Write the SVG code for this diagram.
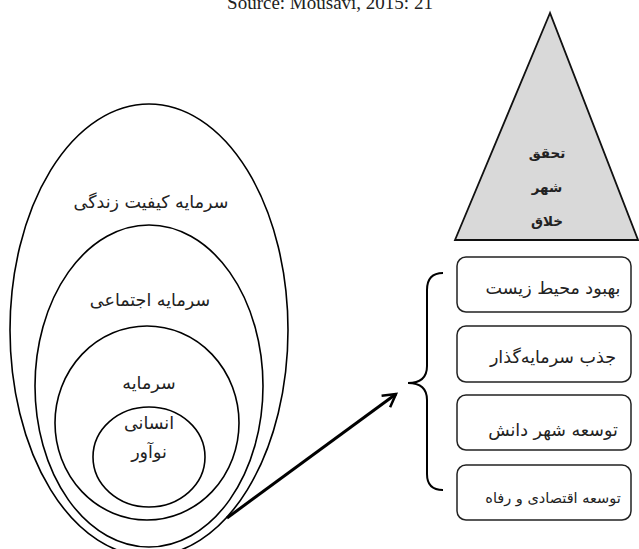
<svg xmlns="http://www.w3.org/2000/svg" width="639" height="549" viewBox="0 0 639 549">
<style>
.ring{fill:none;stroke:#000;stroke-width:1.6}
.fa{font-family:"DejaVu Sans",sans-serif;fill:#222;text-anchor:middle}
.box{fill:#fff;stroke:#222;stroke-width:1.5}
</style>
<defs>
<marker id="ah" viewBox="0 0 10 10" refX="8" refY="5" markerWidth="6" markerHeight="6" orient="auto" markerUnits="strokeWidth">
<path d="M1,1 L8,5 L1,9" fill="none" stroke="#000" stroke-width="1.4"/>
</marker>
</defs>
<rect width="639" height="549" fill="#fff"/>
<text x="330" y="9" font-family="Liberation Serif,serif" font-size="19" text-anchor="middle" fill="#222">Source: Mousavi, 2015: 21</text>

<g id="ring-life">
<ellipse class="ring" cx="149" cy="330" rx="139" ry="226"/>
<text class="fa" x="151" y="208" font-size="17.5">سرمایه کیفیت زندگی</text>
</g>
<g id="ring-social">
<ellipse class="ring" cx="149" cy="386" rx="114" ry="161"/>
<text class="fa" x="150" y="306" font-size="17.5">سرمایه اجتماعی</text>
</g>
<g id="ring-human">
<ellipse class="ring" cx="147" cy="423" rx="92" ry="97"/>
<text class="fa" x="149" y="389" font-size="17.5">سرمایه</text>
</g>
<g id="ring-core">
<ellipse class="ring" cx="149" cy="457" rx="56" ry="50"/>
<text class="fa" x="149" y="429" font-size="17.5">انسانی</text>
<text class="fa" x="149" y="458" font-size="17.5">نوآور</text>
</g>

<g id="pyramid">
<polygon points="550,13 455,240 638,240" fill="#d9d9d9" stroke="#111" stroke-width="1.8"/>
<text class="fa" x="547" y="158" font-size="13.5" font-weight="bold">تحقق</text>
<text class="fa" x="547" y="192" font-size="13.5" font-weight="bold">شهر</text>
<text class="fa" x="547" y="226" font-size="13.5" font-weight="bold">خلاق</text>
</g>

<g id="box1">
<rect class="box" x="457" y="257" width="174" height="55" rx="9"/>
<text class="fa" x="553" y="294" font-size="17.5">بهبود محیط زیست</text>
</g>
<g id="box2">
<rect class="box" x="457" y="326" width="174" height="56" rx="9"/>
<text class="fa" x="553" y="363" font-size="17.5">جذب سرمایه‌گذار</text>
</g>
<g id="box3">
<rect class="box" x="457" y="395" width="174" height="55" rx="9"/>
<text class="fa" x="553" y="436" font-size="17.5">توسعه شهر دانش</text>
</g>
<g id="box4">
<rect class="box" x="457" y="465" width="174" height="55" rx="9"/>
<text class="fa" x="553" y="503" font-size="14.5">توسعه اقتصادی و رفاه</text>
</g>

<g id="connectors">
<path d="M443,273 Q427,273 427,290 L427,366 Q427,383 408,383 Q427,383 427,400 L427,474 Q427,490 443,490" fill="none" stroke="#000" stroke-width="2"/>
<line x1="227" y1="518" x2="396" y2="394" stroke="#000" stroke-width="3" marker-end="url(#ah)"/>
</g>
</svg>
